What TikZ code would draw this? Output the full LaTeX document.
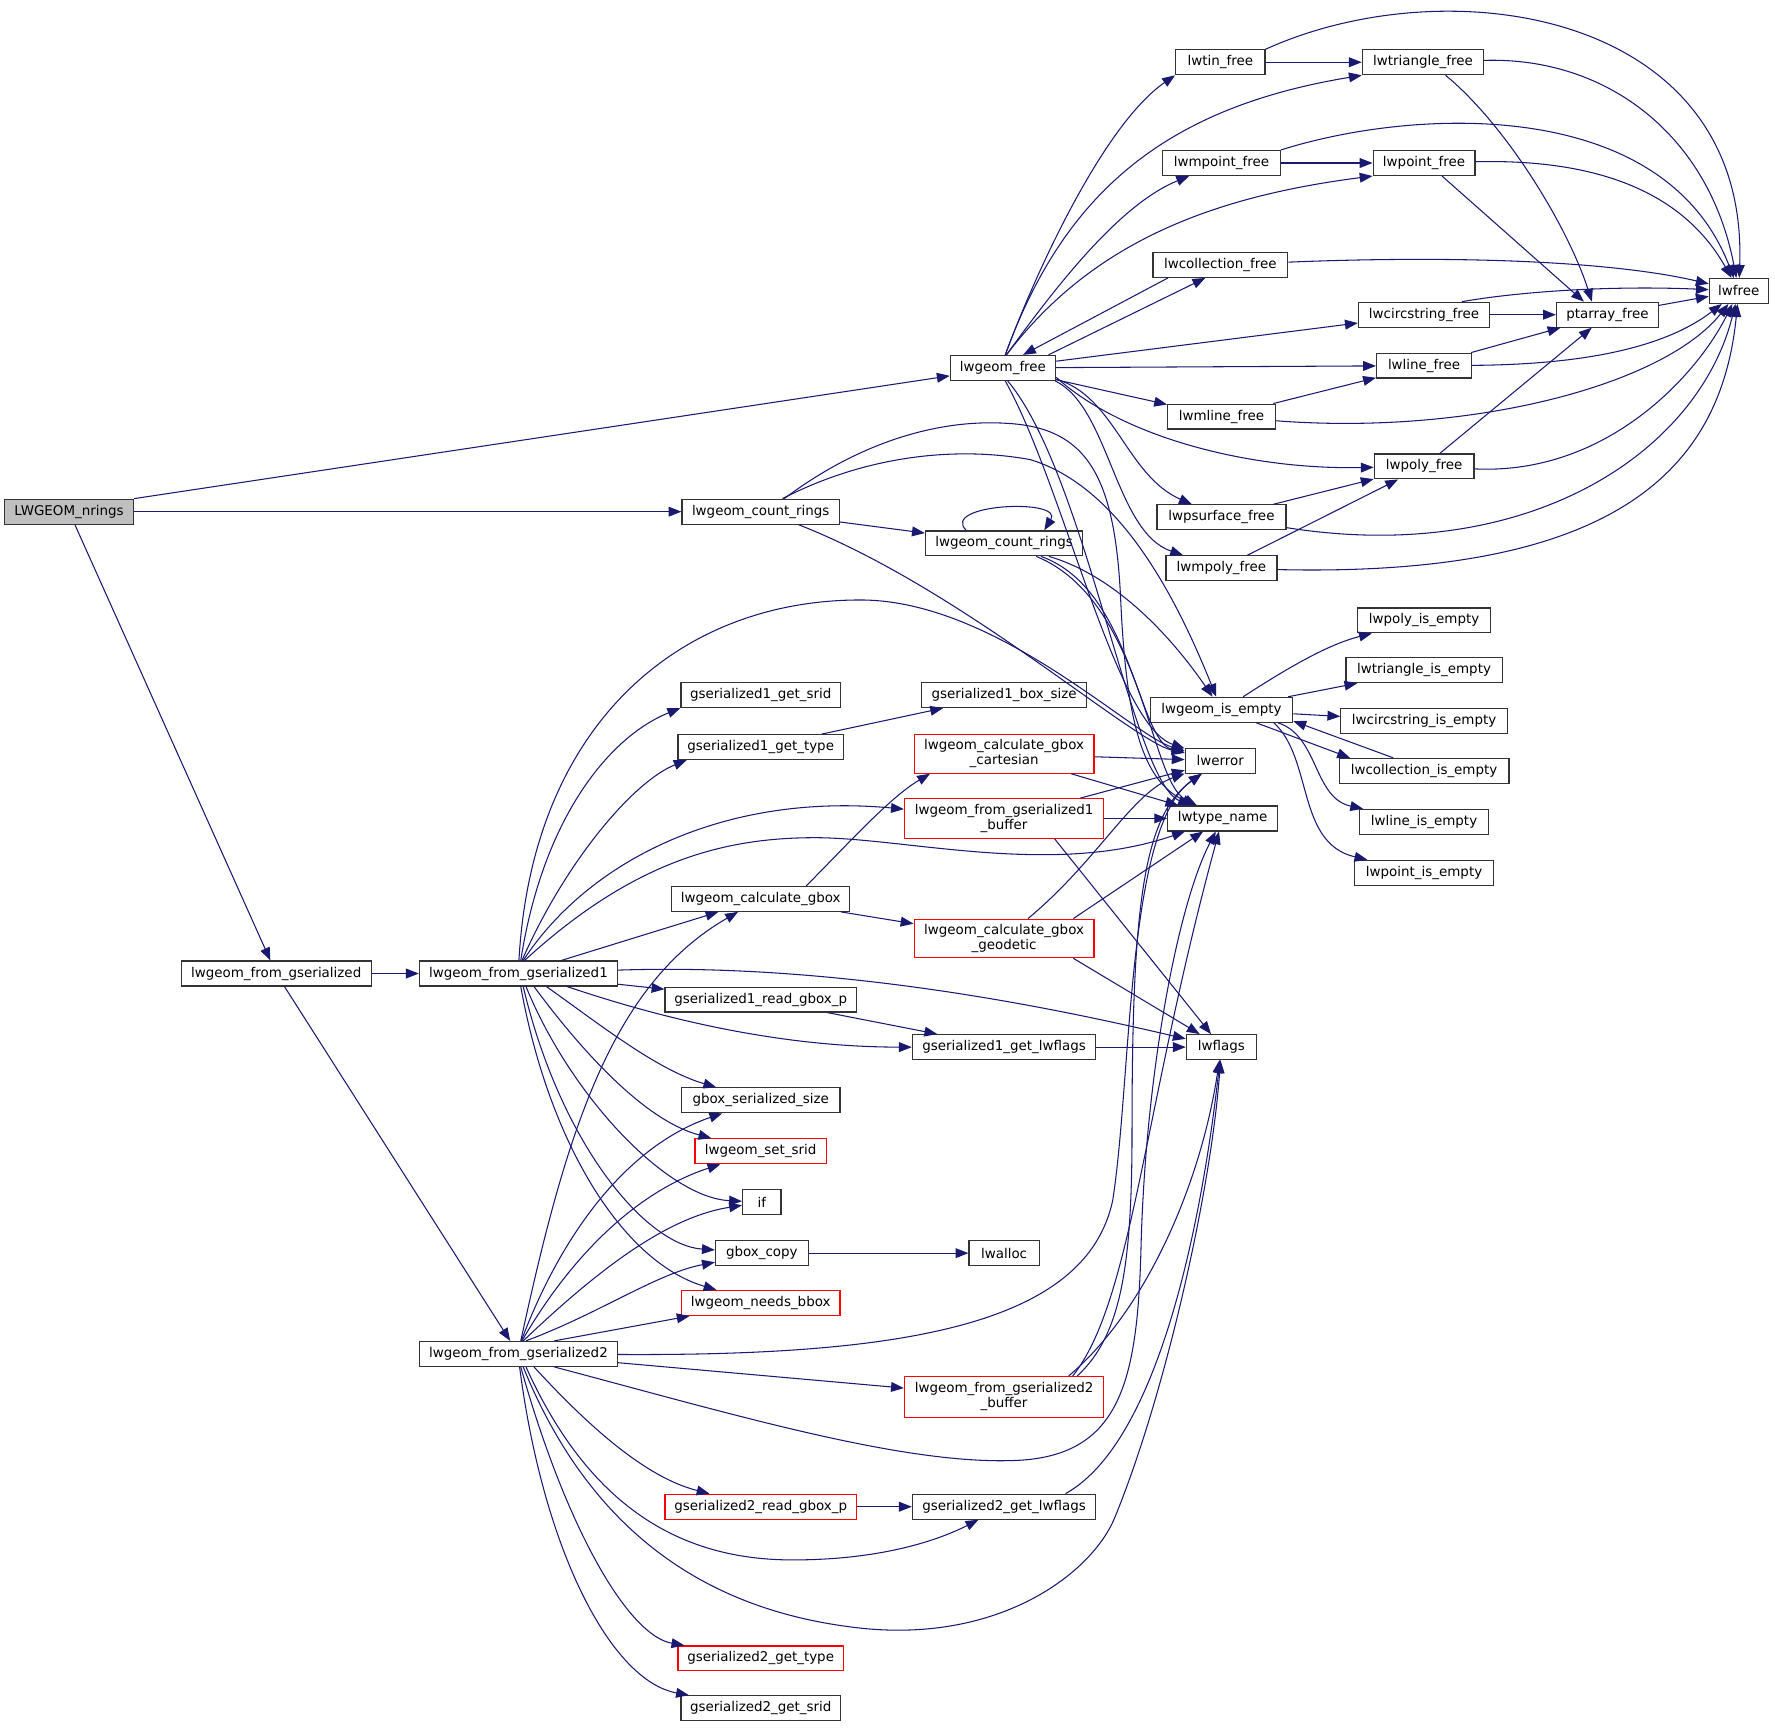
\documentclass[tikz,border=0pt]{standalone}
\usepackage{fontspec}
\setmainfont{DejaVu Sans}
\usetikzlibrary{arrows.meta}
\definecolor{edgec}{HTML}{191970}
\definecolor{boxc}{HTML}{333333}
\definecolor{redc}{HTML}{FF0000}
\definecolor{rootc}{HTML}{BFBFBF}
\tikzset{
  fn/.style={draw=boxc, line width=0.8pt, fill=white, rectangle, inner sep=0pt,
    minimum height=16.5pt, font=\fontsize{8.9pt}{10pt}\selectfont, align=center},
  w/.style={minimum width=#1*0.75pt},
  tall/.style={minimum height=#1*0.75pt},
  redbox/.style={draw=redc},
  root/.style={fill=rootc},
  e/.style={draw=edgec, line width=0.7pt, -{Triangle[length=8.5pt,width=6.5pt]}},
}
\begin{document}
\begin{tikzpicture}[x=0.75pt,y=-0.75pt]
\useasboundingbox (0,0) rectangle (1568,1527);
% nodes
\node[fn,root,w=114] (nrings) at (61,452) {LWGEOM\_nrings};
\node[fn,w=93] (gfree) at (886,325) {lwgeom\_free};
\node[fn,w=139] (count1) at (672,452) {lwgeom\_count\_rings};
\node[fn,w=139] (count2) at (887,480) {lwgeom\_count\_rings};
\node[fn,w=168] (fromgs) at (244,860) {lwgeom\_from\_gserialized};
\node[fn,w=175] (fromgs1) at (458,860) {lwgeom\_from\_gserialized1};
\node[fn,w=175] (fromgs2) at (458,1196) {lwgeom\_from\_gserialized2};
\node[fn,w=79] (tin) at (1078,55) {lwtin\_free};
\node[fn,w=107] (tri) at (1257,55) {lwtriangle\_free};
\node[fn,w=104] (mpt) at (1079,144) {lwmpoint\_free};
\node[fn,w=90] (pt) at (1258,144) {lwpoint\_free};
\node[fn,w=119] (col) at (1078,234) {lwcollection\_free};
\node[fn,w=52] (lwfree) at (1536,257) {lwfree};
\node[fn,w=116] (circ) at (1258,278) {lwcircstring\_free};
\node[fn,w=90] (ptarr) at (1420,278) {ptarray\_free};
\node[fn,w=84] (line) at (1258,323) {lwline\_free};
\node[fn,w=95] (mline) at (1079,368) {lwmline\_free};
\node[fn,w=88] (poly) at (1258,412) {lwpoly\_free};
\node[fn,w=114] (psurf) at (1079,457) {lwpsurface\_free};
\node[fn,w=98] (mpoly) at (1079,502) {lwmpoly\_free};
\node[fn,w=118] (polye) at (1258,548) {lwpoly\_is\_empty};
\node[fn,w=138] (trie) at (1258,592) {lwtriangle\_is\_empty};
\node[fn,w=126] (isempty) at (1079,627) {lwgeom\_is\_empty};
\node[fn,w=147] (circe) at (1258,637) {lwcircstring\_is\_empty};
\node[fn,w=150] (cole) at (1258,681) {lwcollection\_is\_empty};
\node[fn,w=114] (linee) at (1258,726) {lwline\_is\_empty};
\node[fn,w=123] (pte) at (1258,771) {lwpoint\_is\_empty};
\node[fn,w=62] (lwerror) at (1078,672) {lwerror};
\node[fn,w=97] (lwtype) at (1080,723) {lwtype\_name};
\node[fn,w=62] (lwflags) at (1079,925) {lwflags};
\node[fn,w=141] (gs1srid) at (672,614) {gserialized1\_get\_srid};
\node[fn,w=146] (gs1type) at (672,660) {gserialized1\_get\_type};
\node[fn,w=146] (gs1bs) at (887,614) {gserialized1\_box\_size};
\node[fn,redbox,w=159,tall=34] (cart) at (887,666) {lwgeom\_calculate\_gbox\\\_cartesian};
\node[fn,redbox,w=176,tall=35] (buf1) at (887,723) {lwgeom\_from\_gserialized1\\\_buffer};
\node[fn,w=157] (calcgbox) at (672,794) {lwgeom\_calculate\_gbox};
\node[fn,redbox,w=159,tall=34] (geod) at (887,829) {lwgeom\_calculate\_gbox\\\_geodetic};
\node[fn,w=169] (rg1) at (672,883) {gserialized1\_read\_gbox\_p};
\node[fn,w=162] (gl1) at (887,925) {gserialized1\_get\_lwflags};
\node[fn,w=140] (gss) at (672,972) {gbox\_serialized\_size};
\node[fn,redbox,w=116] (setsrid) at (672,1017) {lwgeom\_set\_srid};
\node[fn,w=34] (if) at (673,1062) {if};
\node[fn,w=82] (gcopy) at (673,1107) {gbox\_copy};
\node[fn,w=62] (lwalloc) at (887,1107) {lwalloc};
\node[fn,redbox,w=140] (needsbbox) at (672,1151) {lwgeom\_needs\_bbox};
\node[fn,redbox,w=176,tall=36] (buf2) at (887,1234) {lwgeom\_from\_gserialized2\\\_buffer};
\node[fn,redbox,w=169] (rg2) at (672,1331) {gserialized2\_read\_gbox\_p};
\node[fn,w=162] (gl2) at (887,1331) {gserialized2\_get\_lwflags};
\node[fn,redbox,w=146] (gt2) at (672,1465) {gserialized2\_get\_type};
\node[fn,w=141] (gsrid2) at (672,1509) {gserialized2\_get\_srid};

% root edges
\draw[e] (nrings.north east) -- (gfree);
\draw[e] (nrings) -- (count1);
\draw[e] (nrings) -- (fromgs);
\draw[e] (fromgs) -- (fromgs1);
\draw[e] (fromgs) -- (fromgs2);

% lwgeom_free fan
\draw[e] (gfree.80) .. controls (915,240) and (975,110) .. (tin.south west);
\draw[e] (gfree.80) .. controls (940,170) and (1030,95) .. (tri.south west);
\draw[e] (gfree.75) .. controls (935,250) and (990,180) .. (mpt);
\draw[e] (gfree.75) .. controls (960,220) and (1060,175) .. (pt.south west);
\draw[e] (col.194) -- (gfree.33);
\draw[e] (gfree.16) -- (col.221);
\draw[e] (gfree) -- (circ);
\draw[e] (gfree) -- (line);
\draw[e] (gfree) -- (mline);
\draw[e] (gfree.-10) .. controls (990,385) and (1100,415) .. (poly);
\draw[e] (gfree.-12) .. controls (985,350) and (995,420) .. (psurf);
\draw[e] (gfree.-14) .. controls (980,360) and (985,470) .. (mpoly);
\draw[e] (gfree.-80) .. controls (940,430) and (985,640) .. (lwerror);
\draw[e] (gfree.-70) .. controls (960,420) and (1000,690) .. (lwtype);

% free subtree
\draw[e] (tin) -- (tri);
\draw[e] (tin.north east) .. controls (1280,-30) and (1545,10) .. (lwfree);
\draw[e] (tri) .. controls (1420,50) and (1510,120) .. (lwfree);
\draw[e] (tri.-30) .. controls (1330,110) and (1385,200) .. (ptarr.140);
\draw[e] (mpt) -- (pt);
\draw[e] (mpt.north east) .. controls (1250,95) and (1470,85) .. (lwfree);
\draw[e] (pt) .. controls (1420,140) and (1490,175) .. (lwfree);
\draw[e] (pt.-36) -- (ptarr.151);
\draw[e] (col) .. controls (1300,225) and (1430,232) .. (lwfree);
\draw[e] (circ) -- (ptarr);
\draw[e] (circ.19) .. controls (1340,258) and (1420,252) .. (lwfree);
\draw[e] (ptarr) -- (lwfree);
\draw[e] (line) -- (ptarr);
\draw[e] (line) .. controls (1420,322) and (1480,300) .. (lwfree);
\draw[e] (mline) -- (line);
\draw[e] (mline) .. controls (1300,385) and (1470,340) .. (lwfree);
\draw[e] (poly) -- (ptarr);
\draw[e] (poly) .. controls (1420,420) and (1500,330) .. (lwfree);
\draw[e] (psurf) -- (poly);
\draw[e] (psurf) .. controls (1350,500) and (1500,400) .. (lwfree);
\draw[e] (mpoly) -- (poly);
\draw[e] (mpoly) .. controls (1420,510) and (1520,420) .. (lwfree);

% is_empty subtree
\draw[e] (isempty.31) .. controls (1130,595) and (1170,570) .. (polye);
\draw[e] (isempty) -- (trie);
\draw[e] (isempty) -- (circe);
\draw[e] (isempty) -- (cole.170);
\draw[e] (cole.157) -- (isempty.-9);
\draw[e] (isempty.-13) .. controls (1165,650) and (1160,705) .. (linee);
\draw[e] (isempty.-14) .. controls (1160,670) and (1145,745) .. (pte);

% count rings
\draw[e] (count1) -- (count2);
\draw[e] (count2.161) .. controls (830,445) and (940,440) .. (count2.18);
\draw[e] (count1.29) .. controls (760,390) and (830,370) .. (890,374)
  .. controls (960,378) and (985,420) .. (990,530)
  .. controls (995,640) and (1010,690) .. (lwtype);
\draw[e] (count1.31) .. controls (770,400) and (850,395) .. (910,406)
  .. controls (990,430) and (1040,530) .. (isempty);
\draw[e] (count1.-19) .. controls (850,520) and (1000,655) .. (lwerror);
\draw[e] (count2) .. controls (990,510) and (1040,570) .. (isempty);
\draw[e] (count2) .. controls (1000,520) and (1005,655) .. (lwerror);
\draw[e] (count2) .. controls (1010,530) and (1015,690) .. (lwtype);

% fromgs1 fan
\draw[e] (fromgs1.80) .. controls (480,720) and (540,650) .. (gs1srid.south west);
\draw[e] (fromgs1.75) .. controls (500,760) and (560,690) .. (gs1type.190);
\draw[e] (fromgs1.70) .. controls (520,760) and (640,700) .. (buf1);
\draw[e] (fromgs1.65) .. controls (560,760) and (640,740) .. (720,740)
  .. controls (800,740) and (930,775) .. (lwtype);
\draw[e] (fromgs1.17) -- (calcgbox);
\draw[e] (fromgs1) .. controls (750,850) and (950,895) .. (lwflags);
\draw[e] (fromgs1) -- (rg1);
\draw[e] (fromgs1.-15) .. controls (600,905) and (700,925) .. (gl1);
\draw[e] (fromgs1.-25) .. controls (530,905) and (580,945) .. (gss);
\draw[e] (fromgs1.-40) .. controls (515,930) and (570,990) .. (setsrid);
\draw[e] (fromgs1.-60) .. controls (505,970) and (590,1058) .. (if);
\draw[e] (fromgs1.-70) .. controls (495,1010) and (570,1100) .. (gcopy);
\draw[e] (fromgs1.-80) .. controls (485,1010) and (550,1115) .. (needsbbox);
\draw[e] (fromgs1.88) .. controls (470,640) and (600,530) .. (760,530)
  .. controls (880,530) and (1000,650) .. (lwerror);

% middle
\draw[e] (calcgbox.16) .. controls (745,750) and (785,705) .. (cart.195);
\draw[e] (calcgbox) -- (geod);
\draw[e] (cart) -- (lwerror);
\draw[e] (cart) -- (lwtype);
\draw[e] (buf1) -- (lwerror);
\draw[e] (buf1) -- (lwtype);
\draw[e] (buf1.-22) -- (lwflags);
\draw[e] (geod) .. controls (970,760) and (1000,700) .. (lwerror);
\draw[e] (geod.16) -- (lwtype);
\draw[e] (geod.-16) -- (lwflags);
\draw[e] (rg1) -- (gl1);
\draw[e] (gl1) -- (lwflags);
\draw[e] (gs1type) -- (gs1bs);
\draw[e] (gcopy) -- (lwalloc);

% fromgs2 fan
\draw[e] (fromgs2.80) .. controls (500,1000) and (540,870) .. (calcgbox);
\draw[e] (fromgs2.78) .. controls (500,1080) and (560,1010) .. (gss);
\draw[e] (fromgs2.75) .. controls (510,1100) and (570,1050) .. (setsrid);
\draw[e] (fromgs2.70) .. controls (530,1120) and (590,1075) .. (if);
\draw[e] (fromgs2.60) .. controls (530,1160) and (580,1125) .. (gcopy);
\draw[e] (fromgs2.20) -- (needsbbox);
\draw[e] (fromgs2) .. controls (800,1198) and (960,1170) .. (983,1060)
  .. controls (1000,950) and (995,730) .. (lwerror);
\draw[e] (fromgs2) -- (buf2);
\draw[e] (fromgs2.-20) .. controls (650,1250) and (800,1295) .. (900,1290)
  .. controls (990,1285) and (1005,1220) .. (1008,1100)
  .. controls (1012,950) and (1040,800) .. (lwtype);
\draw[e] (fromgs2.-40) .. controls (520,1260) and (570,1305) .. (rg2);
\draw[e] (rg2) -- (gl2);
\draw[e] (fromgs2.-60) .. controls (520,1330) and (600,1378) .. (700,1378)
  .. controls (780,1378) and (830,1360) .. (gl2);
\draw[e] (gl2.12) .. controls (1030,1270) and (1065,1050) .. (lwflags);
\draw[e] (fromgs2.-70) .. controls (520,1350) and (620,1420) .. (750,1437)
  .. controls (880,1455) and (965,1390) .. (985,1340)
  .. controls (1030,1230) and (1070,1050) .. (lwflags);
\draw[e] (fromgs2.-80) .. controls (500,1350) and (555,1445) .. (gt2);
\draw[e] (fromgs2.-85) .. controls (480,1370) and (540,1485) .. (gsrid2);

% buffer2
\draw[e] (buf2.16) .. controls (990,1180) and (1000,1120) .. (1000,1000)
  .. controls (1000,800) and (1010,720) .. (lwerror);
\draw[e] (buf2.17) .. controls (1000,1150) and (1010,980) .. (lwtype);
\draw[e] (buf2.18) .. controls (1010,1160) and (1060,1050) .. (lwflags);
\end{tikzpicture}
\end{document}
